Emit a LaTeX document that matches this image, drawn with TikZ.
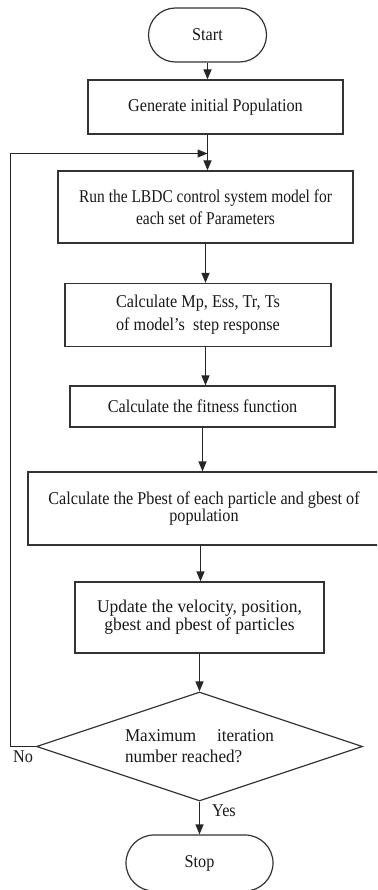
\documentclass[tikz,border=0pt]{standalone}
\usepackage{fontspec}
\setmainfont[FakeStretch=0.9]{Liberation Serif}
\newfontfamily\runf[FakeStretch=0.86]{Liberation Serif}
\newfontfamily\widef[FakeStretch=0.97]{Liberation Serif}
\newfontfamily\decf[FakeStretch=0.95]{Liberation Serif}
\usetikzlibrary{shapes.geometric,arrows.meta}
\begin{document}
\begin{tikzpicture}[x=1pt,y=-1pt,
  every node/.style={font=\fontsize{18}{22}\selectfont, text=black!90},
  box/.style={draw=black!80, line width=1.2pt, rectangle, align=center, inner sep=2pt},
  term/.style={box, rounded corners=27pt},
  dec/.style={draw=black!80, line width=1.2pt, diamond, aspect=3, inner sep=0pt, align=left},
  arr/.style={draw=black!85, line width=1.2pt, -{Triangle[length=10pt,width=8pt]}}]
\useasboundingbox (0,0) rectangle (377,890);
\clip (0,0) rectangle (377,890);
\fill[white] (0,0) rectangle (377,890);

\node[term, minimum width=118pt, minimum height=54pt] (start) at (207.5,35) {Start};
\node[box, minimum width=255pt, minimum height=54pt] (gen) at (215.5,107) {Generate initial Population};
\node[box, minimum width=295pt, minimum height=72pt, font=\fontsize{18}{22}\runf] (run) at (205.5,207) {Run the LBDC control system model for\\each set of Parameters};
\node[box, minimum width=266pt, minimum height=63pt] (calc) at (198,315) {Calculate Mp, Ess, Tr, Ts\\[1pt]of model's\ \ step response};
\node[box, minimum width=265pt, minimum height=41pt] (fit) at (202.5,406.5) {Calculate the fitness function};
\node[box, minimum width=352pt, minimum height=73pt] (pbest) at (204,508.5) {Calculate the Pbest of each particle and gbest of\\[-5pt]population};
\node[box, minimum width=249pt, minimum height=71pt, font=\fontsize{18}{22}\widef] (upd) at (199.5,617.5) {Update the velocity, position,\\[-4pt]gbest and pbest of particles};
\node[dec, minimum width=326pt, minimum height=109pt, font=\fontsize{18}{22}\decf] (dc) at (199.5,746.5) {\makebox[149pt][s]{Maximum\hfill iteration}\\[-1pt]number reached?};
\node[term, rounded corners=28pt, minimum width=147pt, minimum height=56pt] (stop) at (199.5,863) {Stop};

\node (no) at (23,757) {No};
\node (yes) at (224,811) {Yes};

\coordinate (lp) at (10.5,153.5);
\coordinate (join) at (207.5,153.5);

\draw[arr] (start.south) -- (start.south |- gen.north);
\draw[arr] ([xshift=-8pt]gen.south) -- ([xshift=-8pt]gen.south |- run.north);
\draw[arr] (run.south) -- (run.south |- calc.north);
\draw[arr] ([xshift=7.5pt]calc.south) -- ([xshift=7.5pt]calc.south |- fit.north);
\draw[arr] (fit.south) -- (fit.south |- pbest.north);
\draw[arr] ([xshift=-3.5pt]pbest.south) -- ([xshift=-3.5pt]pbest.south |- upd.north);
\draw[arr] (upd.south) -- (upd.south |- dc.north);
\draw[arr] (dc.south) -- (dc.south |- stop.north);
\draw[arr] (dc.west) -| (lp) -- (join);
\end{tikzpicture}
\end{document}
